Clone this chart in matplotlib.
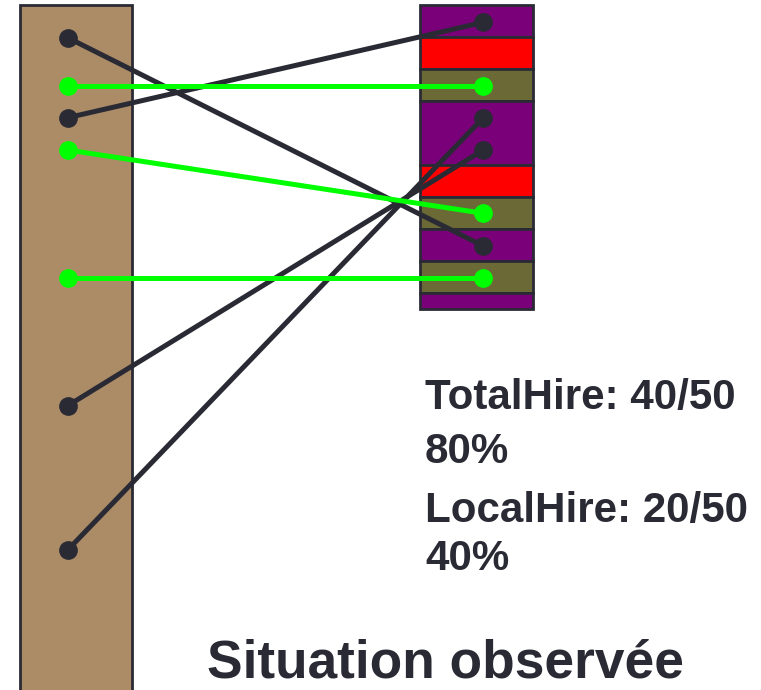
import matplotlib
matplotlib.use("Agg")
import matplotlib.pyplot as plt
from matplotlib.patches import Rectangle

# ---- data ----
# right column segments (units of slot height) and colours
seg_units = [1, 1, 1, 2, 1, 1, 1, 1, 0.5]
seg_colors = ["#7a007a", "#ff0000", "#6b6a37", "#7a007a", "#ff0000", "#6b6a37",
              "#7a007a", "#6b6a37", "#7a007a"]
# connections: (left y, right y, kind)
left_y = [37.7, 117.7, 405.7, 550, 86, 150, 277.7]
right_y = [246, 22.3, 150, 117.7, 86, 213.3, 277.7]
kinds = ["other", "other", "other", "other", "local", "local", "local"]
text_lines = ["TotalHire: 40/50", "80%", "LocalHire: 20/50", "40%"]
text_baselines = [409, 463, 522, 570]
title = "Situation observée"

DARK = "#2a2a35"
GREEN = "#00ff00"
kind_color = {"other": DARK, "local": GREEN}

fig = plt.figure(figsize=(7.61, 6.90), dpi=100)
ax = fig.add_axes([0, 0, 1, 1])
ax.set_xlim(0, 761)
ax.set_ylim(690, 0)
ax.axis("off")

# left bar
ax.add_patch(Rectangle((19.5, 5), 112.5, 700, facecolor="#ab8c67", edgecolor=DARK, lw=2, zorder=1))

# right bar segments
unit = 32.0
y = 5.0
for u, c in zip(seg_units, seg_colors):
    ax.add_patch(Rectangle((419.5, y), 113, u * unit, facecolor=c, edgecolor=DARK, lw=2, zorder=1))
    y += u * unit

xl, xr = 67.7, 483.3
for ly, ry, k in zip(left_y, right_y, kinds):
    col = kind_color[k]
    ax.plot([xl, xr], [ly, ry], color=col, lw=3.6, solid_capstyle="round", zorder=3)
    ax.plot([xl, xr], [ly, ry], "o", color=col, ms=13.5, mec="none", zorder=4)

for t, b in zip(text_lines, text_baselines):
    ax.text(425, b, t, fontsize=30.3, fontweight="bold", family="Liberation Sans",
            color=DARK, va="baseline", ha="left")

ax.text(207, 677, title, fontsize=38.3, fontweight="bold", family="Liberation Sans",
        color=DARK, va="baseline", ha="left")

fig.savefig("out.png", dpi=100)
